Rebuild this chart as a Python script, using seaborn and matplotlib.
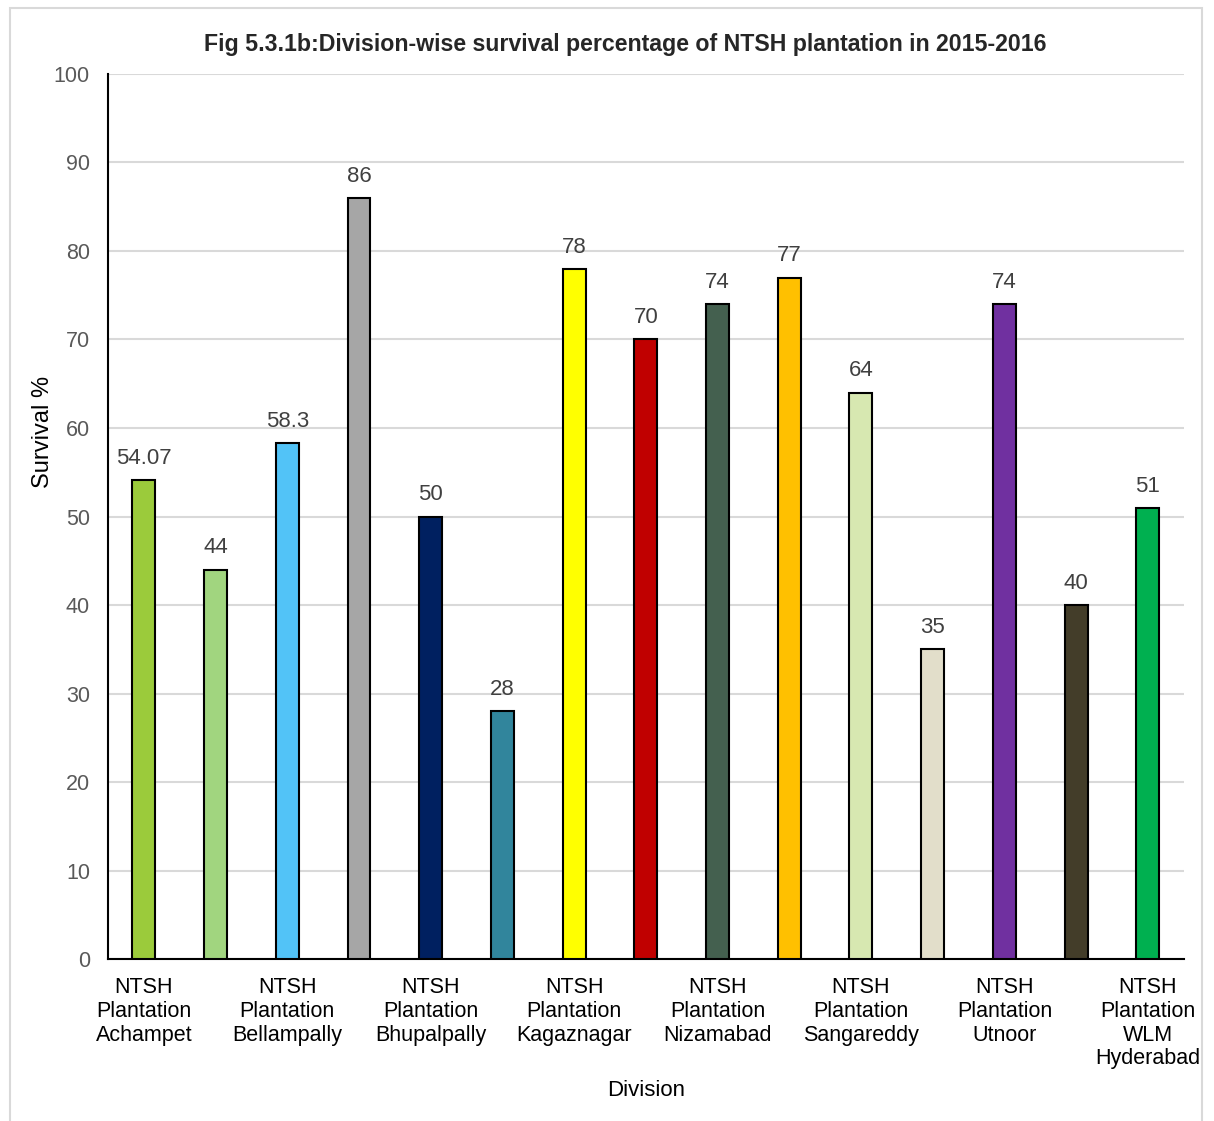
import matplotlib
matplotlib.use("Agg")
import matplotlib.pyplot as plt
import seaborn as sns
import pandas as pd
from matplotlib.patches import Rectangle

# data (every second division label is hidden on the axis)
division_labels = ["NTSH\nPlantation\nAchampet", "",
                   "NTSH\nPlantation\nBellampally", "",
                   "NTSH\nPlantation\nBhupalpally", "",
                   "NTSH\nPlantation\nKagaznagar", "",
                   "NTSH\nPlantation\nNizamabad", "",
                   "NTSH\nPlantation\nSangareddy", "",
                   "NTSH\nPlantation\nUtnoor", "",
                   "NTSH\nPlantation\nWLM\nHyderabad"]
survival = [54.07, 44, 58.3, 86, 50, 28, 78, 70, 74, 77, 64, 35, 74, 40, 51]
bar_colors = ["#9BCB3B", "#A1D57F", "#52C3F7", "#A6A6A6", "#002060",
              "#31859C", "#FFFF00", "#C00000", "#44604F", "#FFC000",
              "#D7E8B1", "#E2DECA", "#7030A0", "#433D29", "#00B050"]

data_df = pd.DataFrame({"pos": range(len(survival)), "survival": survival})

sns.set_style("white")
plt.rcParams["font.family"] = ["Liberation Sans", "DejaVu Sans"]

fig = plt.figure(figsize=(12.14, 11.21), dpi=100)
ax = fig.add_axes([0.089, 0.1445, 0.886, 0.7895])

sns.barplot(data=data_df, x="pos", y="survival", hue="pos",
            palette=bar_colors, legend=False, width=0.32, saturation=1,
            edgecolor="black", linewidth=1.5, ax=ax, zorder=3)

for cont in ax.containers:
    ax.bar_label(cont, labels=[f"{v:g}" for v in cont.datavalues],
                 padding=8, fontsize=16, color="#404040")

ax.set_xlim(-0.5, len(survival) - 0.5)
ax.set_ylim(0, 100)
ax.set_yticks(range(0, 101, 10))
ax.yaxis.grid(True, color="#D9D9D9", linewidth=1.5, zorder=0)
ax.set_axisbelow(True)
ax.set_xticks(range(len(survival)))
ax.set_xticklabels(division_labels, fontsize=15.5, color="black", linespacing=1.17)
ax.tick_params(axis="y", labelsize=15.5, labelcolor="#595959", length=0, pad=13)
ax.tick_params(axis="x", length=0, pad=13)

for side in ["top", "right"]:
    ax.spines[side].set_visible(False)
ax.spines["left"].set_color("black")
ax.spines["left"].set_linewidth(1.5)
ax.spines["bottom"].set_color("black")
ax.spines["bottom"].set_linewidth(1.5)

ax.set_ylabel("Survival %", fontsize=17, color="black")
ax.yaxis.set_label_coords(-0.05, 0.595)
ax.set_xlabel("Division", fontsize=16, color="black", labelpad=8)
fig.text(0.515, 0.96, "Fig 5.3.1b:Division-wise survival percentage of NTSH plantation in 2015-2016",
         ha="center", va="center", fontsize=16.7, fontweight="bold")

# chart area border
fig.patches.append(Rectangle((10 / 1214, -0.01), 1192 / 1214, 1.01 - 8 / 1121,
                             transform=fig.transFigure, fill=False,
                             edgecolor="#D9D9D9", linewidth=1.5))

fig.savefig("out.png", dpi=100)
